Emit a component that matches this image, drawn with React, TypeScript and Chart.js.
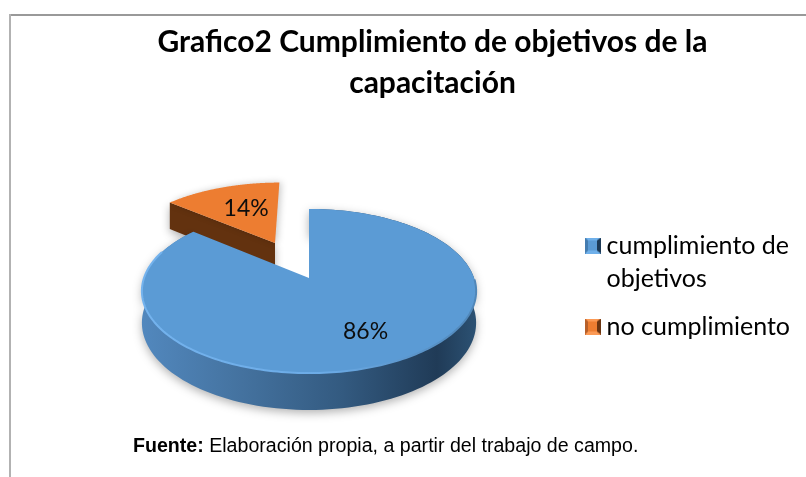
import React, { useEffect, useRef } from "react";
import { Chart, registerables } from "chart.js";

Chart.register(...registerables);

const categories = ["cumplimiento de objetivos", "no cumplimiento"];
const legendLines = [["cumplimiento de", "objetivos"], ["no cumplimiento"]];
const values = [86, 14];
const titleLines = ["Grafico2 Cumplimiento de objetivos de la", "capacitación"];
const topColors = ["#5b9bd5", "#ed7d31"];
const explode = [0, 0.52];

const FONT = "Lato, Carlito, 'Noto Sans', sans-serif";
const PERSP = 0.1586;
const TILT = 0.485;
const DEPTH = 31;

function bevel(base: string, light: string, midDark: string, dark: string) {
  const c = document.createElement("canvas");
  c.width = 16;
  c.height = 16;
  const g = c.getContext("2d")!;
  const quad = (pts: number[][], col: string) => {
    g.fillStyle = col;
    g.beginPath();
    pts.forEach((p, i) => (i ? g.lineTo(p[0], p[1]) : g.moveTo(p[0], p[1])));
    g.closePath();
    g.fill();
  };
  g.fillStyle = base;
  g.fillRect(0, 0, 16, 16);
  quad([[0, 0], [16, 0], [12, 3], [3, 3]], light);
  quad([[0, 16], [16, 16], [12, 13], [3, 13]], light);
  quad([[0, 0], [3, 3], [3, 13], [0, 16]], midDark);
  quad([[16, 0], [12, 3], [12, 13], [16, 16]], dark);
  return c;
}

const pie3d = {
  id: "pie3d",
  beforeDraw(chart: any) {
    const lg = chart.legend;
    const p = lg.options.labels.padding;
    const h = lg.bottom - lg.top;
    lg.left = 592 - p;
    lg.right = 806;
    lg.top = 233 - p;
    lg.bottom = lg.top + Math.max(h, 140);
    const t = chart.titleBlock;
    t.left = 59;
    t.right = 806;
  },
  beforeDatasetsDraw(chart: any) {
    const ctx: CanvasRenderingContext2D = chart.ctx;
    const arcs = chart.getDatasetMeta(0).data;
    const project = (arc: any, u: number, v: number, down = 0) => {
      const s = 1 / (1 - PERSP * v);
      const R = arc.outerRadius;
      return [arc.x + R * u * s, arc.y + TILT * R * v * s + down * s];
    };
    const planePoint = (arc: any, i: number, a: number, f: number) => {
      const mid = (arc.startAngle + arc.endAngle) / 2;
      return [explode[i] * Math.cos(mid) + f * Math.cos(a), explode[i] * Math.sin(mid) + f * Math.sin(a)];
    };
    const rim = (arc: any, i: number, a0: number, a1: number, down = 0) => {
      const out: number[][] = [];
      const n = 160;
      for (let k = 0; k <= n; k++) {
        const a = a0 + ((a1 - a0) * k) / n;
        const q = planePoint(arc, i, a, 1);
        out.push(project(arc, q[0], q[1], down));
      }
      return out;
    };
    const path = (pts: number[][]) => {
      ctx.beginPath();
      pts.forEach((p, i) => (i ? ctx.lineTo(p[0], p[1]) : ctx.moveTo(p[0], p[1])));
      ctx.closePath();
    };
    const apex = (arc: any, i: number, down = 0) => {
      const q = planePoint(arc, i, 0, 0);
      return project(arc, q[0], q[1], down);
    };

    ctx.save();
    // exploded slice
    {
      const arc = arcs[1];
      const top = rim(arc, 1, arc.startAngle, arc.endAngle);
      const bot = rim(arc, 1, arc.startAngle, arc.endAngle, DEPTH);
      ctx.save();
      ctx.shadowColor = "rgba(0,0,0,0.3)";
      ctx.shadowBlur = 9;
      ctx.shadowOffsetY = 3;
      ctx.fillStyle = "#63320f";
      path([apex(arc, 1), top[0], bot[0], apex(arc, 1, DEPTH)]);
      ctx.fill();
      ctx.restore();
      ctx.save();
      ctx.shadowColor = "rgba(0,0,0,0.22)";
      ctx.shadowBlur = 7;
      ctx.shadowOffsetX = 2;
      ctx.fillStyle = topColors[1];
      path([apex(arc, 1), ...top]);
      ctx.fill();
      ctx.restore();
    }
    // main slice
    {
      const arc = arcs[0];
      const top = rim(arc, 0, arc.startAngle, arc.endAngle);
      const bot = rim(arc, 0, arc.startAngle, arc.endAngle, DEPTH);
      const x0 = arc.x - arc.outerRadius * 1.02;
      const x1 = arc.x + arc.outerRadius * 1.02;
      const side = ctx.createLinearGradient(x0, 0, x1, 0);
      side.addColorStop(0, "#5288be");
      side.addColorStop(0.3, "#44729f");
      side.addColorStop(0.6, "#335a80");
      side.addColorStop(0.88, "#203b57");
      side.addColorStop(1, "#2c5274");
      ctx.save();
      ctx.shadowColor = "rgba(0,0,0,0.3)";
      ctx.shadowBlur = 10;
      ctx.shadowOffsetY = 3;
      ctx.fillStyle = side;
      path([...top, ...bot.slice().reverse()]);
      ctx.fill();
      ctx.restore();
      ctx.fillStyle = topColors[0];
      path([apex(arc, 0), ...top]);
      ctx.fill();
      const front = rim(arc, 0, 0.02, Math.PI + 0.35);
      const hi = ctx.createLinearGradient(x0, 0, x1, 0);
      hi.addColorStop(0, "#74b3ee");
      hi.addColorStop(0.55, "#6cabe6");
      hi.addColorStop(1, "#4f86b8");
      ctx.strokeStyle = hi;
      ctx.lineWidth = 2;
      ctx.beginPath();
      front.forEach((p, i) => (i ? ctx.lineTo(p[0], p[1]) : ctx.moveTo(p[0], p[1])));
      ctx.stroke();
    }
    // percentage labels
    const total = values.reduce((a, b) => a + b, 0);
    ctx.fillStyle = "#0d0d0d";
    ctx.font = `23px ${FONT}`;
    ctx.textAlign = "center";
    ctx.textBaseline = "middle";
    arcs.forEach((arc: any, i: number) => {
      const mid = (arc.startAngle + arc.endAngle) / 2;
      const q = planePoint(arc, i, mid, 0.64);
      const p = project(arc, q[0], q[1]);
      ctx.fillText(`${Math.round((values[i] / total) * 100)}%`, p[0] + 7, p[1] + 3);
    });
    ctx.restore();
    return false;
  },
};

export default function App() {
  const ref = useRef<HTMLCanvasElement>(null);
  useEffect(() => {
    const markers = [
      bevel("#5b9bd5", "#6fb0ea", "#447cb0", "#1d3a56"),
      bevel("#ed7d31", "#fb9a55", "#b7602a", "#6a3512"),
    ];
    const chart = new Chart(ref.current!, {
      type: "pie",
      data: {
        labels: categories,
        datasets: [{ data: values, backgroundColor: topColors, borderWidth: 0 }],
      },
      plugins: [pie3d],
      options: {
        responsive: false,
        animation: false,
        layout: { padding: { left: 35, right: 0, top: 0, bottom: 34 } },
        plugins: {
          tooltip: { enabled: false },
          title: {
            display: true,
            text: titleLines,
            color: "#000",
            font: { family: FONT, size: 30, weight: "bold", lineHeight: "41px" },
            padding: { top: 21.5, bottom: 9.5 },
          },
          legend: {
            position: "right",
            align: "start",
            labels: {
              usePointStyle: true,
              pointStyleWidth: 2,
              padding: 15,
              color: "#111",
              font: { family: FONT, size: 25, lineHeight: "33px" },
              generateLabels: () =>
                legendLines.map((text, i) => ({
                  text,
                  pointStyle: markers[i],
                  fillStyle: topColors[i],
                  strokeStyle: topColors[i],
                  lineWidth: 0,
                  index: i,
                })),
            },
          },
        },
      },
    } as any);
    return () => chart.destroy();
  }, []);
  return (
    <div style={{ position: "absolute", left: 0, top: 0, width: 806, height: 477, overflow: "hidden", background: "#fff" }}>
      <canvas ref={ref} width={806} height={477} style={{ display: "block" }} />
      <div style={{ position: "absolute", left: 9, top: 14, width: 797, height: 2, background: "#999" }} />
      <div style={{ position: "absolute", left: 9, top: 14, width: 2, height: 463, background: "#b2b2b2" }} />
      <div
        style={{
          position: "absolute",
          left: 133,
          top: 434,
          whiteSpace: "nowrap",
          font: "19.6px 'Liberation Sans', Arial, sans-serif",
          color: "#000",
        }}
      >
        <b>Fuente:</b> Elaboración propia, a partir del trabajo de campo.
      </div>
    </div>
  );
}
